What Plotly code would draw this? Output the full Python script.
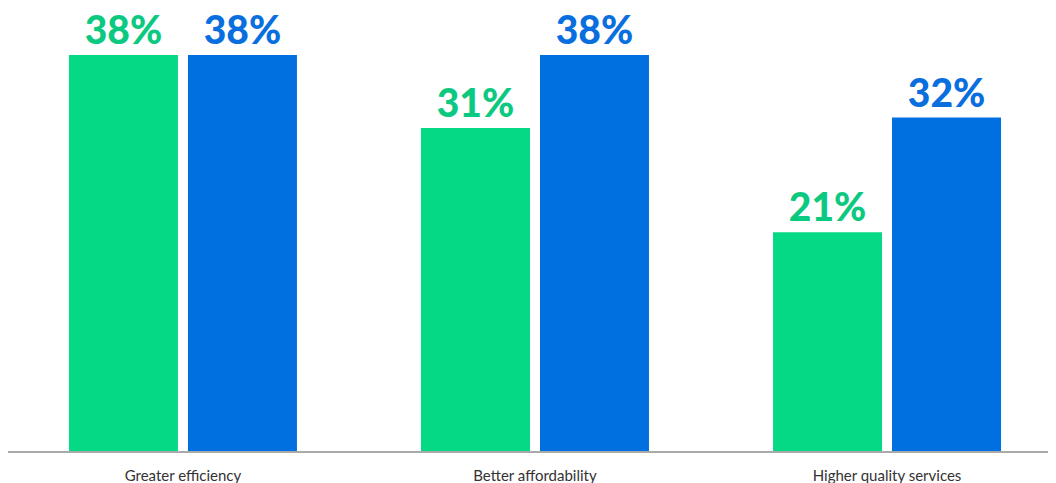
import plotly.graph_objects as go

categories = ["Greater efficiency", "Better affordability", "Higher quality services"]
series_a = [38, 31, 21]
series_b = [38, 38, 32]

GREEN = "#06D986"
BLUE = "#0070E0"
GREEN_TXT = "#0BC980"
BLUE_TXT = "#0A6FDE"

fig = go.Figure()
fig.add_trace(go.Bar(
    x=categories, y=series_a, marker_color=GREEN, marker_line_width=0,
    text=[f"{v}%" for v in series_a], textposition="outside",
    textfont=dict(family="Lato", size=39, color=GREEN_TXT, weight=900),
    cliponaxis=False,
))
fig.add_trace(go.Bar(
    x=categories, y=series_b, marker_color=BLUE, marker_line_width=0,
    text=[f"{v}%" for v in series_b], textposition="outside",
    textfont=dict(family="Lato", size=39, color=BLUE_TXT, weight=900),
    cliponaxis=False,
))

fig.update_layout(
    width=1048, height=475,
    margin=dict(l=0, r=0, t=0, b=32, autoexpand=False),
    paper_bgcolor="white", plot_bgcolor="white",
    barmode="group", bargap=0.324, bargroupgap=0.084,
    showlegend=False,
    uniformtext=dict(mode=False),
    xaxis=dict(
        type="category", range=[-0.497, 2.48],
        showline=True, linecolor="#AAAAAA", linewidth=1.5,
        ticks="", showgrid=False, zeroline=False,
        tickfont=dict(family="Lato", size=15, color="#333333"),
        ticklabelstandoff=10, automargin=False,
    ),
    yaxis=dict(range=[0, 42.51], visible=False, showgrid=False, zeroline=False),
)

fig.write_html("out.html")
